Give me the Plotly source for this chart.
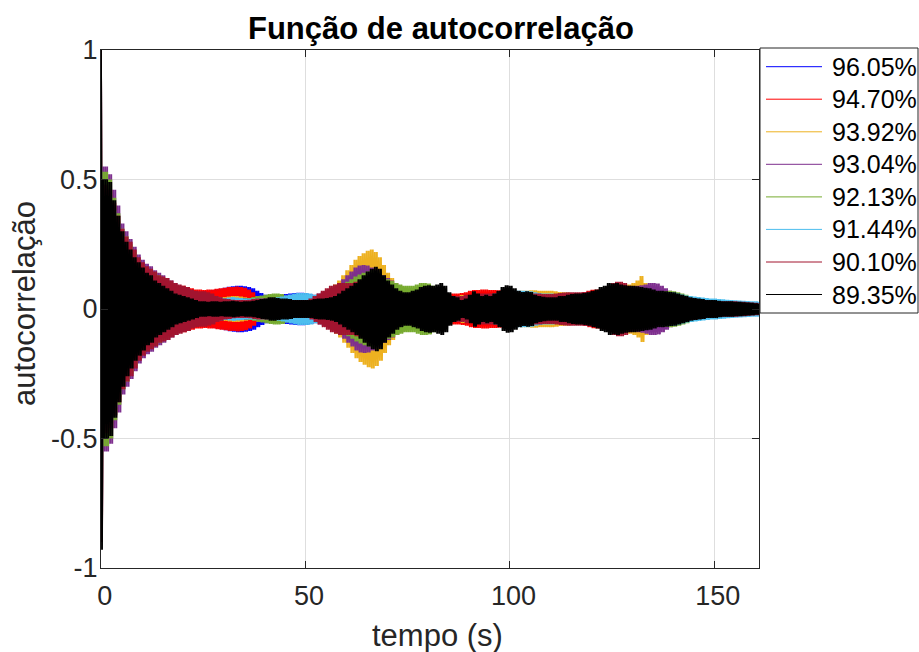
import plotly.graph_objects as go

# Legend labels and line colours of the eight autocorrelation curves
labels = ["96.05%", "94.70%", "93.92%", "93.04%", "92.13%", "91.44%", "90.10%", "89.35%"]
colors = ["#0000FF", "#FF0000", "#EDB120", "#7E2F8E", "#77AC30", "#4DBEEE", "#A2142F", "#000000"]

# Whole-second lags (s)
lag_s = list(range(162))

# Swing amplitude of each autocorrelation at every whole-second lag (index 0 = zero lag)
amp_9605 = [
    1.00, 0.40, 0.38, 0.34, 0.29, 0.25, 0.22, 0.19, 0.17, 0.15,
    0.13, 0.12, 0.11, 0.10, 0.09, 0.085, 0.08, 0.075, 0.07, 0.065,
    0.06, 0.062, 0.065, 0.065, 0.066, 0.068, 0.07, 0.073, 0.075, 0.078,
    0.082, 0.086, 0.088, 0.09, 0.09, 0.088, 0.085, 0.08, 0.07, 0.062,
    0.055, 0.05, 0.048, 0.05, 0.055, 0.058, 0.06, 0.062, 0.063, 0.063,
    0.062, 0.058, 0.05, 0.045, 0.04, 0.04, 0.04, 0.04, 0.04, 0.04,
    0.04, 0.04, 0.04, 0.04, 0.04, 0.04, 0.04, 0.04, 0.04, 0.04,
    0.04, 0.04, 0.04, 0.04, 0.04, 0.04, 0.04, 0.04, 0.04, 0.04,
    0.04, 0.04, 0.042, 0.045, 0.045, 0.045, 0.045, 0.045, 0.048, 0.05,
    0.052, 0.055, 0.058, 0.06, 0.06, 0.058, 0.055, 0.055, 0.055, 0.055,
    0.055, 0.055, 0.058, 0.06, 0.062, 0.065, 0.062, 0.058, 0.055, 0.05,
    0.05, 0.048, 0.046, 0.045, 0.045, 0.045, 0.045, 0.045, 0.045, 0.045,
    0.045, 0.045, 0.045, 0.045, 0.045, 0.045, 0.045, 0.045, 0.045, 0.045,
    0.045, 0.045, 0.045, 0.045, 0.045, 0.045, 0.045, 0.045, 0.045, 0.045,
    0.042, 0.04, 0.038, 0.036, 0.034, 0.032, 0.03, 0.03, 0.03, 0.03,
    0.028, 0.028, 0.027, 0.026, 0.025, 0.024, 0.023, 0.022, 0.021, 0.02, 0.02, 0.02,
]
amp_9470 = [
    1.00, 0.42, 0.40, 0.36, 0.31, 0.27, 0.24, 0.21, 0.19, 0.17,
    0.15, 0.14, 0.13, 0.12, 0.11, 0.10, 0.095, 0.09, 0.09, 0.09,
    0.09, 0.085, 0.08, 0.075, 0.075, 0.073, 0.075, 0.075, 0.078, 0.08,
    0.082, 0.085, 0.085, 0.087, 0.085, 0.082, 0.075, 0.065, 0.05, 0.04,
    0.035, 0.035, 0.032, 0.03, 0.03, 0.03, 0.03, 0.03, 0.03, 0.03,
    0.03, 0.03, 0.03, 0.032, 0.035, 0.038, 0.04, 0.045, 0.05, 0.05,
    0.05, 0.05, 0.05, 0.05, 0.05, 0.05, 0.05, 0.05, 0.05, 0.05,
    0.045, 0.045, 0.04, 0.04, 0.04, 0.04, 0.04, 0.04, 0.045, 0.045,
    0.045, 0.048, 0.05, 0.055, 0.058, 0.06, 0.06, 0.06, 0.062, 0.065,
    0.07, 0.073, 0.073, 0.075, 0.075, 0.073, 0.073, 0.072, 0.072, 0.07,
    0.07, 0.068, 0.065, 0.06, 0.055, 0.05, 0.05, 0.05, 0.05, 0.05,
    0.05, 0.05, 0.05, 0.05, 0.05, 0.052, 0.056, 0.06, 0.065, 0.07,
    0.074, 0.075, 0.076, 0.075, 0.07, 0.065, 0.062, 0.06, 0.06, 0.06,
    0.06, 0.06, 0.06, 0.058, 0.056, 0.054, 0.052, 0.05, 0.05, 0.05,
    0.048, 0.046, 0.044, 0.042, 0.04, 0.038, 0.036, 0.034, 0.032, 0.03,
    0.03, 0.03, 0.028, 0.028, 0.027, 0.026, 0.025, 0.024, 0.023, 0.022, 0.021, 0.02,
]
amp_9392 = [
    1.00, 0.46, 0.44, 0.40, 0.34, 0.29, 0.26, 0.23, 0.20, 0.18,
    0.16, 0.15, 0.14, 0.13, 0.12, 0.11, 0.10, 0.09, 0.08, 0.07,
    0.065, 0.06, 0.055, 0.05, 0.05, 0.048, 0.046, 0.045, 0.045, 0.045,
    0.046, 0.048, 0.05, 0.05, 0.048, 0.045, 0.04, 0.038, 0.036, 0.035,
    0.035, 0.035, 0.036, 0.036, 0.037, 0.038, 0.038, 0.038, 0.04, 0.04,
    0.04, 0.042, 0.045, 0.05, 0.055, 0.065, 0.08, 0.095, 0.11, 0.13,
    0.15, 0.17, 0.19, 0.205, 0.215, 0.225, 0.23, 0.22, 0.20, 0.17,
    0.14, 0.12, 0.10, 0.09, 0.085, 0.08, 0.075, 0.07, 0.068, 0.065,
    0.065, 0.065, 0.062, 0.06, 0.055, 0.05, 0.048, 0.05, 0.054, 0.05,
    0.045, 0.04, 0.04, 0.04, 0.04, 0.042, 0.045, 0.05, 0.055, 0.06,
    0.062, 0.065, 0.068, 0.07, 0.07, 0.072, 0.072, 0.07, 0.07, 0.07,
    0.07, 0.068, 0.066, 0.065, 0.064, 0.062, 0.06, 0.06, 0.06, 0.06,
    0.062, 0.065, 0.068, 0.07, 0.075, 0.078, 0.08, 0.085, 0.09, 0.095,
    0.10, 0.11, 0.127, 0.10, 0.09, 0.085, 0.08, 0.075, 0.07, 0.065,
    0.058, 0.052, 0.048, 0.045, 0.042, 0.04, 0.038, 0.036, 0.035, 0.034,
    0.032, 0.03, 0.03, 0.028, 0.027, 0.026, 0.025, 0.024, 0.023, 0.022, 0.021, 0.02,
]
amp_9304 = [
    1.00, 0.55, 0.52, 0.46, 0.40, 0.33, 0.30, 0.27, 0.24, 0.21,
    0.19, 0.175, 0.165, 0.15, 0.14, 0.13, 0.12, 0.11, 0.10, 0.09,
    0.085, 0.08, 0.072, 0.065, 0.06, 0.058, 0.055, 0.052, 0.048, 0.045,
    0.042, 0.042, 0.042, 0.042, 0.042, 0.042, 0.042, 0.042, 0.042, 0.042,
    0.04, 0.04, 0.04, 0.04, 0.04, 0.04, 0.04, 0.04, 0.042, 0.045,
    0.045, 0.05, 0.055, 0.06, 0.065, 0.07, 0.075, 0.085, 0.10, 0.115,
    0.13, 0.145, 0.16, 0.168, 0.17, 0.168, 0.16, 0.15, 0.14, 0.13,
    0.12, 0.11, 0.10, 0.09, 0.08, 0.075, 0.07, 0.07, 0.07, 0.07,
    0.065, 0.06, 0.055, 0.05, 0.05, 0.05, 0.045, 0.045, 0.045, 0.045,
    0.045, 0.045, 0.045, 0.045, 0.045, 0.045, 0.045, 0.048, 0.05, 0.05,
    0.05, 0.05, 0.05, 0.05, 0.05, 0.05, 0.05, 0.05, 0.05, 0.05,
    0.05, 0.05, 0.05, 0.05, 0.052, 0.055, 0.058, 0.06, 0.062, 0.065,
    0.065, 0.068, 0.07, 0.072, 0.075, 0.078, 0.08, 0.082, 0.085, 0.085,
    0.088, 0.09, 0.092, 0.095, 0.10, 0.10, 0.098, 0.09, 0.08, 0.07,
    0.062, 0.056, 0.05, 0.046, 0.042, 0.04, 0.038, 0.035, 0.033, 0.032,
    0.03, 0.03, 0.028, 0.028, 0.026, 0.026, 0.025, 0.024, 0.023, 0.022, 0.021, 0.02,
]
amp_9213 = [
    1.00, 0.53, 0.50, 0.43, 0.37, 0.31, 0.28, 0.25, 0.22, 0.19,
    0.17, 0.16, 0.15, 0.14, 0.13, 0.12, 0.11, 0.10, 0.09, 0.08,
    0.07, 0.065, 0.06, 0.055, 0.055, 0.052, 0.05, 0.048, 0.045, 0.042,
    0.04, 0.04, 0.04, 0.04, 0.04, 0.04, 0.042, 0.046, 0.05, 0.052,
    0.055, 0.058, 0.06, 0.06, 0.058, 0.052, 0.048, 0.045, 0.045, 0.045,
    0.045, 0.048, 0.05, 0.055, 0.06, 0.065, 0.07, 0.078, 0.085, 0.095,
    0.105, 0.115, 0.125, 0.133, 0.14, 0.145, 0.15, 0.145, 0.135, 0.125,
    0.115, 0.108, 0.10, 0.095, 0.09, 0.09, 0.09, 0.095, 0.10, 0.10,
    0.098, 0.09, 0.08, 0.07, 0.06, 0.055, 0.05, 0.048, 0.046, 0.045,
    0.045, 0.045, 0.046, 0.047, 0.048, 0.05, 0.05, 0.05, 0.05, 0.05,
    0.05, 0.05, 0.05, 0.052, 0.054, 0.055, 0.056, 0.056, 0.055, 0.055,
    0.056, 0.058, 0.06, 0.06, 0.06, 0.06, 0.06, 0.06, 0.06, 0.06,
    0.06, 0.06, 0.062, 0.064, 0.065, 0.066, 0.066, 0.066, 0.066, 0.066,
    0.066, 0.066, 0.066, 0.066, 0.066, 0.066, 0.066, 0.066, 0.068, 0.07,
    0.068, 0.065, 0.06, 0.055, 0.05, 0.045, 0.042, 0.04, 0.038, 0.036,
    0.034, 0.032, 0.03, 0.03, 0.028, 0.028, 0.027, 0.026, 0.025, 0.024, 0.023, 0.022,
]
amp_9144 = [
    1.00, 0.45, 0.43, 0.38, 0.33, 0.28, 0.25, 0.22, 0.20, 0.17,
    0.15, 0.14, 0.13, 0.12, 0.11, 0.10, 0.09, 0.08, 0.075, 0.07,
    0.065, 0.06, 0.055, 0.05, 0.048, 0.046, 0.045, 0.044, 0.042, 0.042,
    0.042, 0.044, 0.046, 0.044, 0.042, 0.04, 0.04, 0.04, 0.04, 0.04,
    0.04, 0.04, 0.042, 0.045, 0.048, 0.052, 0.056, 0.06, 0.062, 0.062,
    0.062, 0.06, 0.055, 0.05, 0.048, 0.048, 0.05, 0.055, 0.06, 0.065,
    0.07, 0.075, 0.078, 0.08, 0.08, 0.08, 0.08, 0.078, 0.075, 0.07,
    0.065, 0.06, 0.058, 0.055, 0.055, 0.055, 0.055, 0.055, 0.055, 0.055,
    0.055, 0.055, 0.052, 0.05, 0.05, 0.05, 0.05, 0.05, 0.05, 0.05,
    0.05, 0.05, 0.05, 0.052, 0.055, 0.058, 0.06, 0.062, 0.064, 0.066,
    0.068, 0.07, 0.07, 0.07, 0.07, 0.068, 0.065, 0.062, 0.06, 0.06,
    0.06, 0.058, 0.056, 0.055, 0.055, 0.055, 0.055, 0.055, 0.055, 0.055,
    0.055, 0.056, 0.058, 0.06, 0.06, 0.06, 0.06, 0.06, 0.06, 0.06,
    0.06, 0.06, 0.06, 0.06, 0.06, 0.062, 0.064, 0.065, 0.066, 0.066,
    0.064, 0.06, 0.056, 0.052, 0.05, 0.048, 0.046, 0.044, 0.042, 0.04,
    0.04, 0.038, 0.037, 0.036, 0.035, 0.034, 0.033, 0.032, 0.031, 0.03, 0.03, 0.028,
]
amp_9010 = [
    1.00, 0.48, 0.46, 0.41, 0.36, 0.31, 0.28, 0.26, 0.23, 0.20,
    0.18, 0.165, 0.155, 0.145, 0.13, 0.125, 0.12, 0.11, 0.10, 0.095,
    0.09, 0.085, 0.075, 0.07, 0.068, 0.068, 0.065, 0.06, 0.05, 0.045,
    0.04, 0.038, 0.036, 0.035, 0.035, 0.035, 0.036, 0.038, 0.04, 0.04,
    0.04, 0.038, 0.036, 0.035, 0.035, 0.035, 0.035, 0.035, 0.035, 0.035,
    0.035, 0.04, 0.05, 0.06, 0.07, 0.08, 0.09, 0.095, 0.10, 0.10,
    0.10, 0.10, 0.105, 0.11, 0.115, 0.12, 0.12, 0.115, 0.105, 0.095,
    0.085, 0.075, 0.065, 0.06, 0.06, 0.06, 0.06, 0.06, 0.06, 0.06,
    0.06, 0.06, 0.06, 0.06, 0.06, 0.055, 0.05, 0.05, 0.05, 0.055,
    0.055, 0.058, 0.06, 0.06, 0.06, 0.06, 0.06, 0.06, 0.06, 0.06,
    0.06, 0.06, 0.058, 0.058, 0.058, 0.06, 0.06, 0.06, 0.058, 0.058,
    0.058, 0.06, 0.062, 0.064, 0.065, 0.065, 0.065, 0.065, 0.066, 0.067,
    0.068, 0.07, 0.072, 0.08, 0.09, 0.10, 0.105, 0.105, 0.10, 0.09,
    0.08, 0.075, 0.072, 0.07, 0.07, 0.068, 0.065, 0.062, 0.06, 0.056,
    0.052, 0.05, 0.048, 0.045, 0.042, 0.04, 0.038, 0.036, 0.034, 0.032,
    0.03, 0.03, 0.03, 0.03, 0.03, 0.03, 0.028, 0.028, 0.026, 0.025, 0.024, 0.022,
]
amp_8935 = [
    1.00, 0.50, 0.49, 0.42, 0.36, 0.30, 0.26, 0.23, 0.20, 0.18,
    0.16, 0.14, 0.13, 0.11, 0.10, 0.09, 0.08, 0.07, 0.06, 0.055,
    0.05, 0.045, 0.04, 0.035, 0.03, 0.03, 0.028, 0.03, 0.03, 0.028,
    0.03, 0.03, 0.032, 0.03, 0.028, 0.03, 0.03, 0.032, 0.035, 0.038,
    0.04, 0.045, 0.045, 0.042, 0.04, 0.04, 0.038, 0.035, 0.035, 0.035,
    0.035, 0.035, 0.038, 0.04, 0.04, 0.042, 0.045, 0.05, 0.06, 0.07,
    0.08, 0.09, 0.10, 0.115, 0.13, 0.145, 0.155, 0.163, 0.155, 0.13,
    0.11, 0.095, 0.08, 0.07, 0.065, 0.065, 0.07, 0.075, 0.085, 0.09,
    0.092, 0.09, 0.095, 0.10, 0.09, 0.065, 0.05, 0.045, 0.035, 0.04,
    0.055, 0.068, 0.06, 0.05, 0.055, 0.05, 0.06, 0.07, 0.085, 0.092,
    0.09, 0.08, 0.07, 0.066, 0.068, 0.066, 0.055, 0.05, 0.047, 0.045,
    0.045, 0.045, 0.05, 0.05, 0.055, 0.058, 0.06, 0.06, 0.062, 0.065,
    0.07, 0.075, 0.085, 0.09, 0.10, 0.098, 0.10, 0.095, 0.092, 0.09,
    0.09, 0.088, 0.085, 0.082, 0.08, 0.075, 0.07, 0.07, 0.068, 0.066,
    0.065, 0.06, 0.055, 0.05, 0.045, 0.042, 0.04, 0.038, 0.035, 0.035,
    0.035, 0.032, 0.03, 0.03, 0.03, 0.028, 0.028, 0.026, 0.025, 0.024, 0.022, 0.02,
]
amplitudes = [amp_9605, amp_9470, amp_9392, amp_9304, amp_9213, amp_9144, amp_9010, amp_8935]

# First negative swing right after zero lag
first_trough = [-0.85, -0.86, -0.85, -0.88, -0.87, -0.80, -0.90, -0.93]

X_MAX = 161

# plot-area pixel box (left, right, top, bottom) in a 919 x 652 page
PL, PR, PT, PB = 101, 759, 50, 568


def px_x(px):
    return (px - PL) / (PR - PL)


def px_y(py):
    return (PB - py) / (PB - PT)


fig = go.Figure()

# each curve swings between +a and -a twice per lag second
for name, col, amp, trough in zip(labels, colors, amplitudes, first_trough):
    xs, ys = [], []
    for k, (lag, a) in enumerate(zip(lag_s, amp)):
        xs += [lag, lag + 0.25, lag + 0.5, lag + 0.75]
        ys += [a, trough if k == 0 else -a, a if k > 0 else amp[1], -a if k > 0 else -amp[1]]
    fig.add_trace(go.Scatter(
        x=xs, y=ys, mode="lines", name=name,
        line=dict(color=col, width=1.9, simplify=False),
        showlegend=False, hoverinfo="skip",
    ))

TXT = "#262626"
FONT = "Liberation Sans, Arial, sans-serif"
NB = "\u00a0"

axis_common = dict(
    showline=True, linecolor=TXT, linewidth=1, mirror="ticks",
    ticks="inside", ticklen=7, tickwidth=1, tickcolor=TXT,
    showgrid=True, gridcolor="#dedede", gridwidth=1, zeroline=False,
    tickfont=dict(family=FONT, size=27, color=TXT),
)

x_ticks = [0, 50, 100, 150]
y_ticks = [-1, -0.5, 0, 0.5, 1]
fig.update_xaxes(range=[0, X_MAX], tickvals=x_ticks,
                 ticktext=[NB + str(v) for v in x_ticks],
                 ticklabelstandoff=4, **axis_common)
fig.update_yaxes(range=[-1, 1], tickvals=y_ticks,
                 ticktext=["-1", "-0.5", "0", "0.5", "1"],
                 ticklabelstandoff=-3, **axis_common)

annotations = [
    dict(text="<b>Função de autocorrelação</b>", x=px_x(441), y=px_y(28),
         xref="paper", yref="paper", xanchor="center", yanchor="middle",
         showarrow=False, font=dict(family=FONT, size=31, color="#000000")),
    dict(text="tempo (s)", x=px_x(437), y=px_y(635),
         xref="paper", yref="paper", xanchor="center", yanchor="middle",
         showarrow=False, font=dict(family=FONT, size=31, color=TXT)),
    dict(text="autocorrelação", x=px_x(24), y=px_y(304), textangle=-90,
         xref="paper", yref="paper", xanchor="center", yanchor="middle",
         showarrow=False, font=dict(family=FONT, size=31, color=TXT)),
]

# legend box drawn with shapes and text
LEG_L, LEG_R, LEG_T, LEG_B = 760, 918, 48, 313
shapes = [dict(type="rect", xref="paper", yref="paper",
               x0=px_x(LEG_L), x1=px_x(LEG_R), y0=px_y(LEG_B), y1=px_y(LEG_T),
               line=dict(color=TXT, width=1), fillcolor="white", layer="above")]
row_y = [66.7, 99.2, 131.8, 164.3, 196.9, 229.4, 262.0, 294.5]
for name, col, ry in zip(labels, colors, row_y):
    shapes.append(dict(type="line", xref="paper", yref="paper",
                       x0=px_x(766), x1=px_x(822), y0=px_y(ry), y1=px_y(ry),
                       line=dict(color=col, width=1), layer="above"))
    annotations.append(dict(text=name, x=px_x(830), y=px_y(ry), xref="paper", yref="paper",
                            xanchor="left", yanchor="middle", showarrow=False,
                            font=dict(family=FONT, size=25, color="#000000")))

fig.update_layout(
    width=919, height=652,
    margin=dict(l=PL, r=919 - PR, t=PT, b=652 - PB, pad=0),
    paper_bgcolor="white", plot_bgcolor="white",
    showlegend=False,
    annotations=annotations, shapes=shapes,
)

fig.write_html("out.html")
